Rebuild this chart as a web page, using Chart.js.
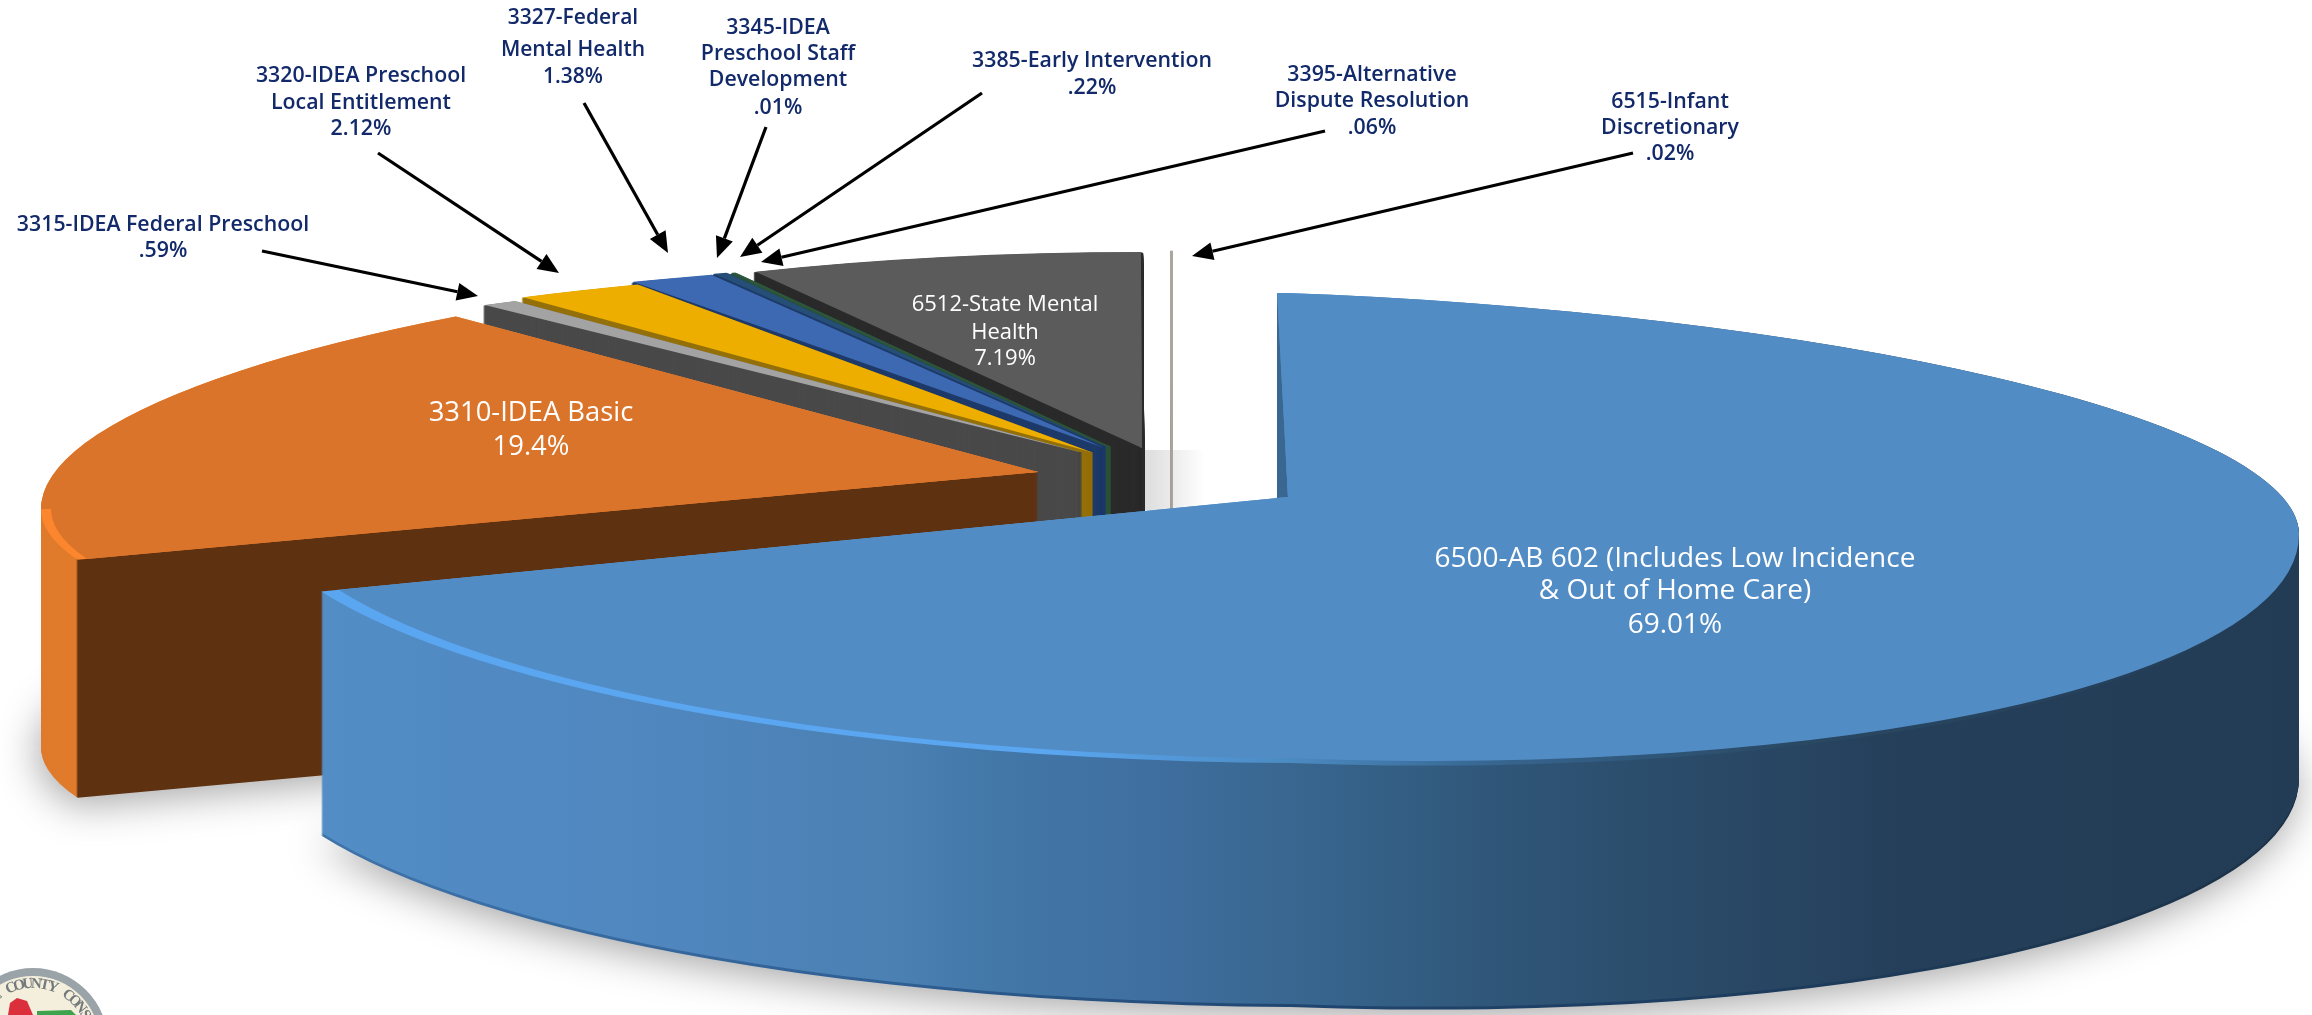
<!DOCTYPE html>
<html>
<head>
<meta charset="utf-8">
<title>Special education revenue by resource</title>
<script src="https://cdn.jsdelivr.net/npm/chart.js@4/dist/chart.umd.min.js"></script>
<style>
  html, body { margin: 0; padding: 0; background: #fff; }
  canvas { display: block; }
</style>
</head>
<body>
<canvas id="pie" width="2312" height="1015"></canvas>
<script>
// pie order is clockwise from 12 o'clock
const resources = ['6500-AB 602', '3310-IDEA Basic', '3315-IDEA Federal Preschool', '3320-IDEA Preschool Local Entitlement',
  '3327-Federal Mental Health', '3345-IDEA Preschool Staff Development', '3385-Early Intervention',
  '3395-Alternative Dispute Resolution', '6512-State Mental Health', '6515-Infant Discretionary'];
const shares = [69.01, 19.4, 0.59, 2.12, 1.38, 0.01, 0.22, 0.06, 7.19, 0.02];
const labelLines = [
  ['6500-AB 602 (Includes Low Incidence', '& Out of Home Care)', '69.01%'],
  ['3310-IDEA Basic', '19.4%'],
  ['3315-IDEA Federal Preschool', '.59%'],
  ['3320-IDEA Preschool', 'Local Entitlement', '2.12%'],
  ['3327-Federal', 'Mental Health', '1.38%'],
  ['3345-IDEA', 'Preschool Staff', 'Development', '.01%'],
  ['3385-Early Intervention', '.22%'],
  ['3395-Alternative', 'Dispute Resolution', '.06%'],
  ['6512-State Mental', 'Health', '7.19%'],
  ['6515-Infant', 'Discretionary', '.02%']
];

const topColors = ['#528cc5', '#da742b', '#a3a3a3', '#edae00', '#3d69b3', '#22466f', '#264f78', '#2c5a3e', '#5b5b5b', '#aaa69c'];
const wallColors = [null, null, '#494949', '#94700a', '#1d3a69', '#1d3a69', '#1d3a69', '#2c5238', '#2a2a2a', '#aaa69c'];

const blueWall = [[322, '#528dc6'], [640, '#5087bf'], [900, '#4a80b2'], [1000, '#4277a8'], [1150, '#3f6fa0'],
  [1300, '#38668f'], [1500, '#2f5678'], [1700, '#2a4a68'], [1900, '#253f5a'], [2300, '#233c55']];
const blueEdge = [[322, '#3f74aa'], [900, '#2f5f94'], [1300, '#1f4570'], [2300, '#1c3247']];
const blueBevel = [[322, '#5aa6f0'], [1050, '#5aa6f0'], [1280, '#4c8cc4'], [1500, '#36658f'], [1800, '#294862'], [2300, '#233c55']];
const orangeWall = [[30, '#df7a2c'], [76, '#e07b2c'], [78, '#5e3110'], [1100, '#5e3110']];
const orangeBevel = [[30, '#fb862e'], [400, '#fb862e']];

// where each slice sits: apex, radii left/right and up/down, perspective shear and a small turn
const poses = [
  { x: 1288, y: 497, rx: [1044, 1011], ry: [204, 266], shear: [-0.006, 0.037], rot: -0.6, bevel: 0.982, depth: 244 },
  { x: 1038, y: 472, rx: [997, 997], ry: [218, 195], shear: [0.037, 0.037], rot: 6, bevel: 0.99, depth: 238 },
  { x: 1080, y: 452, rx: [1000, 1000], ry: [183, 183], shear: [0, 0], rot: 5.2, depth: 240 },
  { x: 1091, y: 452, rx: [1000, 1000], ry: [188, 188], shear: [0, 0], rot: 5, depth: 240 },
  { x: 1102, y: 447, rx: [1000, 1000], ry: [187, 187], shear: [0, 0], rot: 4, depth: 240 },
  { x: 1102, y: 447, rx: [1000, 1000], ry: [187, 187], shear: [0, 0], rot: 4, depth: 240 },
  { x: 1104, y: 446, rx: [1000, 1000], ry: [187, 187], shear: [0, 0], rot: 4, depth: 240 },
  { x: 1109, y: 446, rx: [1000, 1000], ry: [187, 187], shear: [0, 0], rot: 4, depth: 240 },
  { x: 1142, y: 448, rx: [883, 883], ry: [196, 196], shear: [0, 0], rot: 0, depth: 240 },
  { x: 1172, y: 450, rx: [890, 890], ry: [199, 199], shear: [0, 0], rot: 0, depth: 240 }
];
const drawOrder = [9, 8, 7, 6, 5, 4, 3, 2, 1, 0];

const navy = '#12296a';
const labelFont = '"Open Sans", sans-serif';
// centre x, y of each line for the labels
const labelPlaces = [
  { x: 1675, y: [558, 590, 624], size: 28, weight: 400, color: '#fff' },
  { x: 531, y: [412, 446], size: 27.4, weight: 400, color: '#fff' },
  { x: 163, y: [224, 250], size: 21.3, weight: 600, color: navy },
  { x: 361, y: [75, 102, 128], size: 21.3, weight: 600, color: navy },
  { x: 573, y: [17, 49, 76], size: 21, weight: 600, color: navy },
  { x: 778, y: [27, 53, 79, 107], size: 21.3, weight: 600, color: navy },
  { x: 1092, y: [60, 87], size: 21.3, weight: 600, color: navy },
  { x: 1372, y: [74, 100, 127], size: 21.3, weight: 600, color: navy },
  { x: 1005, y: [304, 332, 358], size: 22, weight: 400, color: '#fff' },
  { x: 1670, y: [101, 127, 153], size: 21.3, weight: 600, color: navy }
];
const arrows = [
  [262, 251, 478, 296], [378, 153, 559, 273], [584, 103, 668, 253], [766, 127, 717, 258],
  [982, 93, 740, 257], [1325, 131, 761, 262], [1633, 153, 1192, 256]
];

function xGradient(ctx, stops) {
  // stops are page x positions, keep the colour bands vertical on the page whatever the transform is
  const m = ctx.getTransform().inverse();
  const first = stops[0][0], last = stops[stops.length - 1][0];
  const a = m.transformPoint({ x: first, y: 0 });
  const far = m.transformPoint({ x: last, y: 0 });
  const gx = m.d, gy = -m.c;
  const t = ((far.x - a.x) * gx + (far.y - a.y) * gy) / (gx * gx + gy * gy);
  const g = ctx.createLinearGradient(a.x, a.y, a.x + gx * t, a.y + gy * t);
  stops.forEach(s => g.addColorStop((s[0] - first) / (last - first), s[1]));
  return g;
}

function paintSlice(ctx, el, baseOptions, pose, fill, dy, bevel, border) {
  const R = el.outerRadius;
  const overlap = ctx.shadowBlur ? 0 : 1;
  [[-1, -1], [1, -1], [-1, 1], [1, 1]].forEach(([qx, qy]) => {
    const sx = pose.rx[qx < 0 ? 0 : 1] / R;
    const sy = pose.ry[qy < 0 ? 0 : 1] / R;
    const sh = pose.shear[qx < 0 ? 0 : 1];
    ctx.save();
    ctx.translate(pose.x, pose.y + dy);
    ctx.transform(sx, qx * sh * sx, 0, sy, 0, 0);
    ctx.beginPath();
    ctx.rect(qx < 0 ? -3 * R : -overlap, qy < 0 ? -3 * R : -overlap, 3 * R + overlap, 3 * R + overlap);
    ctx.clip();
    if (bevel && qy > 0) {
      ctx.scale(qx < 0 ? bevel : 1, bevel);
    }
    ctx.rotate(pose.rot * Math.PI / 180);
    ctx.translate(-el.x, -el.y);
    const color = Array.isArray(fill) ? xGradient(ctx, fill) : fill;
    el.options = Object.assign({}, baseOptions, { backgroundColor: color, borderColor: color, borderWidth: border || baseOptions.borderWidth });
    el.draw(ctx);
    ctx.restore();
  });
  el.options = baseOptions;
}

const solidPie = {
  id: 'solidPie',
  beforeDatasetDraw(chart) {
    const ctx = chart.ctx;
    const meta = chart.getDatasetMeta(0);

    // soft shade behind the state mental health wedge
    const shade = ctx.createLinearGradient(1143, 0, 1205, 0);
    shade.addColorStop(0, 'rgba(0,0,0,0.14)');
    shade.addColorStop(1, 'rgba(0,0,0,0)');
    ctx.fillStyle = shade;
    ctx.fillRect(1143, 450, 62, 60);

    drawOrder.forEach(i => {
      const el = meta.data[i];
      const base = el.options;
      const pose = poses[i];
      const wall = i === 0 ? blueWall : i === 1 ? orangeWall : wallColors[i];
      // thin wedges lose coverage near the apex, the border keeps their walls solid
      const border = i >= 2 && i < 9 ? 2.6 : 0;
      for (let dy = pose.depth; dy > 0; dy--) {
        ctx.save();
        if (dy === pose.depth && i < 2) {
          ctx.shadowColor = 'rgba(0,0,0,0.36)';
          ctx.shadowBlur = 40;
          ctx.shadowOffsetX = -3;
          ctx.shadowOffsetY = 7;
        }
        paintSlice(ctx, el, base, pose, i === 0 && dy > pose.depth - 3 ? blueEdge : wall, dy, 0, border);
        ctx.restore();
      }
      if (pose.bevel) {
        paintSlice(ctx, el, base, pose, i === 0 ? blueBevel : orangeBevel, 0);
        paintSlice(ctx, el, base, pose, topColors[i], 0, pose.bevel);
      } else {
        paintSlice(ctx, el, base, pose, topColors[i], 0);
      }
    });
    return false;
  },
  afterDraw(chart) {
    const ctx = chart.ctx;
    drawArrows(ctx);
    drawLabels(ctx);
    drawSeal(ctx);
  }
};

function drawArrows(ctx) {
  ctx.save();
  ctx.strokeStyle = '#000';
  ctx.fillStyle = '#000';
  ctx.lineWidth = 3.2;
  arrows.forEach(([x0, y0, x1, y1]) => {
    const a = Math.atan2(y1 - y0, x1 - x0);
    const head = 21, half = 9;
    const bx = x1 - Math.cos(a) * head, by = y1 - Math.sin(a) * head;
    ctx.beginPath();
    ctx.moveTo(x0, y0);
    ctx.lineTo(bx, by);
    ctx.stroke();
    ctx.beginPath();
    ctx.moveTo(x1, y1);
    ctx.lineTo(bx - Math.sin(a) * half, by + Math.cos(a) * half);
    ctx.lineTo(bx + Math.sin(a) * half, by - Math.cos(a) * half);
    ctx.closePath();
    ctx.fill();
  });
  ctx.restore();
}

function drawLabels(ctx) {
  ctx.save();
  ctx.textAlign = 'center';
  ctx.textBaseline = 'middle';
  labelLines.forEach((lines, i) => {
    const p = labelPlaces[i];
    ctx.font = p.weight + ' ' + p.size + 'px ' + labelFont;
    ctx.fillStyle = p.color;
    lines.forEach((t, j) => ctx.fillText(t, p.x, p.y[j] + 1));
  });
  ctx.restore();
}

function drawSeal(ctx) {
  const cx = 33, cy = 1043, r = 75;
  ctx.save();
  ctx.beginPath();
  ctx.arc(cx, cy, r, 0, Math.PI * 2);
  ctx.fillStyle = '#9aa3a8';
  ctx.fill();
  ctx.beginPath();
  ctx.arc(cx, cy, r - 8, 0, Math.PI * 2);
  ctx.fillStyle = '#f4efdd';
  ctx.fill();
  ctx.fillStyle = '#dc2f3c';
  ctx.beginPath();
  ctx.moveTo(8, 1015); ctx.lineTo(10, 1003); ctx.lineTo(17, 998); ctx.lineTo(27, 1001); ctx.lineTo(33, 1015);
  ctx.closePath();
  ctx.fill();
  ctx.fillStyle = '#3fa34d';
  ctx.beginPath();
  ctx.moveTo(37, 1015); ctx.lineTo(37, 1011); ctx.lineTo(71, 1010); ctx.lineTo(76, 1015);
  ctx.closePath();
  ctx.fill();
  // ring text
  ctx.fillStyle = '#74797c';
  ctx.font = '700 15px "Liberation Serif", serif';
  ctx.textAlign = 'center';
  ctx.textBaseline = 'middle';
  'E COUNTY CONS'.split('').forEach((ch, i) => {
    const a = -2.24 + i * 0.145;
    ctx.save();
    ctx.translate(cx + Math.cos(a) * (r - 16), cy + Math.sin(a) * (r - 16));
    ctx.rotate(a + Math.PI / 2);
    ctx.fillText(ch, 0, 0);
    ctx.restore();
  });
  ctx.restore();
}

new Chart(document.getElementById('pie'), {
  type: 'pie',
  data: {
    labels: resources,
    datasets: [{
      data: shares,
      backgroundColor: topColors,
      borderWidth: shares.map((v, i) => i === 9 ? 1 : 0)
    }]
  },
  options: {
    responsive: false,
    animation: false,
    devicePixelRatio: 1,
    layout: { padding: 0 },
    plugins: { legend: { display: false }, title: { display: false }, tooltip: { enabled: false } }
  },
  plugins: [solidPie]
});
</script>
</body>
</html>
